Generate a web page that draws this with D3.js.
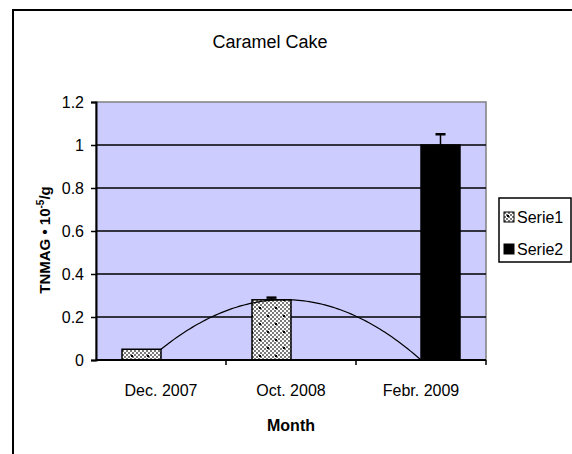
<!DOCTYPE html>
<html>
<head>
<meta charset="utf-8">
<script src="https://cdn.jsdelivr.net/npm/d3@7"></script>
<style>
  body { margin: 0; background: #fff; }
  text { font-family: "Liberation Sans", Arial, sans-serif; fill: #000; }
</style>
</head>
<body>
<script>
// Chart data
const months = ['Dec. 2007', 'Oct. 2008', 'Febr. 2009'];
const seriesNames = ['Serie1', 'Serie2'];
const serie1 = [0.05, 0.28, 0];
const serie2 = [0, 0, 1.0];
const serie1Err = [0, 0.01, 0];
const serie2Err = [0, 0, 0.05];
const yTicks = [0, 0.2, 0.4, 0.6, 0.8, 1, 1.2];

const svg = d3.select('body').append('svg')
    .attr('width', 572)
    .attr('height', 454);

// Patterned fill for Serie1
const defs = svg.append('defs');
const pat = defs.append('pattern')
    .attr('id', 'dots')
    .attr('patternUnits', 'userSpaceOnUse')
    .attr('width', 16).attr('height', 16);
pat.append('rect').attr('width', 16).attr('height', 16).attr('fill', '#fff');
for (let i = 0; i < 8; i++) {
    for (let j = 0; j < 8; j++) {
        if ((i + j) % 2 === 0) {
            pat.append('rect').attr('x', i * 2).attr('y', j * 2)
                .attr('width', 2).attr('height', 2).attr('fill', '#7a7a7a');
        }
    }
}
pat.append('rect').attr('x', 3).attr('y', 3).attr('width', 2).attr('height', 2).attr('fill', '#000');
pat.append('rect').attr('x', 11).attr('y', 11).attr('width', 2).attr('height', 2).attr('fill', '#000');

// Outer chart border
svg.append('rect')
    .attr('x', 13).attr('y', 10)
    .attr('width', 600).attr('height', 500)
    .attr('fill', 'none')
    .attr('stroke', '#000')
    .attr('stroke-width', 2);

// Plot area
const plotL = 96, plotR = 486, plotT = 102, plotB = 360;

const x = d3.scaleBand().domain(months).range([plotL, plotR]);
const xInner = d3.scaleBand().domain(seriesNames)
    .range([0, x.bandwidth()])
    .paddingInner(0)
    .paddingOuter(0.667);
const y = d3.scaleLinear().domain([0, 1.2]).range([plotB, plotT]);

svg.append('rect')
    .attr('x', plotL).attr('y', plotT)
    .attr('width', plotR - plotL).attr('height', plotB - plotT)
    .attr('fill', '#ccccff')
    .attr('stroke', '#808080')
    .attr('stroke-width', 1.5);

// Gridlines
svg.selectAll('.grid')
    .data(yTicks.filter(d => d > 0 && d < 1.2))
    .enter().append('line')
    .attr('x1', plotL).attr('x2', plotR)
    .attr('y1', d => y(d)).attr('y2', d => y(d))
    .attr('stroke', '#000')
    .attr('stroke-width', 1.5);

// Bars
const rows = [];
months.forEach((m, i) => {
    rows.push({ month: m, series: 'Serie1', value: serie1[i], err: serie1Err[i] });
    rows.push({ month: m, series: 'Serie2', value: serie2[i], err: serie2Err[i] });
});

svg.selectAll('.bar')
    .data(rows.filter(d => d.value > 0))
    .enter().append('rect')
    .attr('class', 'bar')
    .attr('x', d => x(d.month) + xInner(d.series))
    .attr('y', d => y(d.value))
    .attr('width', xInner.bandwidth())
    .attr('height', d => y(0) - y(d.value))
    .attr('fill', d => d.series === 'Serie1' ? 'url(#dots)' : '#000')
    .attr('stroke', '#000')
    .attr('stroke-width', 1.5);

// Error bars (plus direction)
const errs = rows.filter(d => d.err > 0);
const cx = d => x(d.month) + xInner(d.series) + xInner.bandwidth() / 2;
svg.selectAll('.err')
    .data(errs)
    .enter().append('line')
    .attr('x1', cx).attr('x2', cx)
    .attr('y1', d => y(d.value))
    .attr('y2', d => y(d.value + d.err))
    .attr('stroke', '#000')
    .attr('stroke-width', 1.5);
svg.selectAll('.cap')
    .data(errs)
    .enter().append('line')
    .attr('x1', d => cx(d) - 5)
    .attr('x2', d => cx(d) + 5)
    .attr('y1', d => y(d.value + d.err))
    .attr('y2', d => y(d.value + d.err))
    .attr('stroke', '#000')
    .attr('stroke-width', 2.5);

// Polynomial (order 2) trendline for Serie1, least squares
function polyFit(xs, ys) {
    const s = k => d3.sum(xs, v => Math.pow(v, k));
    const t = k => d3.sum(xs, (v, i) => Math.pow(v, k) * ys[i]);
    const A = [[s(0), s(1), s(2)], [s(1), s(2), s(3)], [s(2), s(3), s(4)]];
    const B = [t(0), t(1), t(2)];
    const det = m => m[0][0] * (m[1][1] * m[2][2] - m[1][2] * m[2][1])
        - m[0][1] * (m[1][0] * m[2][2] - m[1][2] * m[2][0])
        + m[0][2] * (m[1][0] * m[2][1] - m[1][1] * m[2][0]);
    const D = det(A);
    return [0, 1, 2].map(c => det(A.map((r, i) => r.map((v, j) => j === c ? B[i] : v))) / D);
}
const idx = months.map((m, i) => i + 1);
const coef = polyFit(idx, serie1);
const pos = d3.scaleLinear().domain([1, months.length])
    .range([x(months[0]) + x.bandwidth() / 2, x(months[months.length - 1]) + x.bandwidth() / 2]);
const curve = d3.range(1, months.length + 0.001, 0.02).map(t => [t, coef[0] + coef[1] * t + coef[2] * t * t]);
svg.append('path')
    .datum(curve)
    .attr('d', d3.line().x(d => pos(d[0])).y(d => y(Math.max(0, d[1]))))
    .attr('fill', 'none')
    .attr('stroke', '#000')
    .attr('stroke-width', 1.2);

// Y axis
const yAxis = svg.append('g')
    .attr('transform', `translate(${plotL},0)`)
    .call(d3.axisLeft(y).tickValues(yTicks).tickSize(5).tickPadding(7).tickFormat(d3.format('')));
yAxis.select('.domain').attr('stroke', '#000').attr('stroke-width', 2);
yAxis.selectAll('.tick line').attr('stroke', '#000').attr('stroke-width', 1.5);
yAxis.selectAll('.tick text')
    .style('font-family', '"Liberation Sans", Arial, sans-serif')
    .style('font-size', '16px')
    .attr('fill', '#000');

// X axis
svg.append('line')
    .attr('x1', plotL).attr('x2', plotR)
    .attr('y1', plotB).attr('y2', plotB)
    .attr('stroke', '#000').attr('stroke-width', 2);
svg.selectAll('.xtick')
    .data(months)
    .enter().append('line')
    .attr('x1', d => x(d) + x.bandwidth()).attr('x2', d => x(d) + x.bandwidth())
    .attr('y1', plotB).attr('y2', plotB + 5)
    .attr('stroke', '#000').attr('stroke-width', 1.5);
svg.selectAll('.xlabel')
    .data(months)
    .enter().append('text')
    .attr('x', d => x(d) + x.bandwidth() / 2)
    .attr('y', 396)
    .attr('text-anchor', 'middle')
    .style('font-size', '16px')
    .text(d => d);

// Titles
svg.append('text')
    .attr('x', 270).attr('y', 48)
    .attr('text-anchor', 'middle')
    .style('font-size', '18px')
    .text('Caramel Cake');

svg.append('text')
    .attr('x', 291).attr('y', 431)
    .attr('text-anchor', 'middle')
    .style('font-size', '16px')
    .style('font-weight', 'bold')
    .text('Month');

const yt = svg.append('text')
    .attr('transform', 'translate(50,240) rotate(-90)')
    .attr('text-anchor', 'middle')
    .style('font-size', '15px')
    .style('font-weight', 'bold');
yt.append('tspan').text('TNMAG • 10');
yt.append('tspan').attr('dy', -6).style('font-size', '10px').text('-5');
yt.append('tspan').attr('dy', 6).text('/g');

// Legend
const legend = svg.append('g').attr('transform', 'translate(499,198)');
legend.append('rect')
    .attr('width', 72).attr('height', 64)
    .attr('fill', '#fff')
    .attr('stroke', '#000')
    .attr('stroke-width', 1.5);
const items = legend.selectAll('.item')
    .data(seriesNames)
    .enter().append('g')
    .attr('transform', (d, i) => `translate(5,${14 + i * 32})`);
items.append('rect')
    .attr('width', 10).attr('height', 10)
    .attr('fill', (d, i) => i === 0 ? 'url(#dots)' : '#000')
    .attr('stroke', '#000');
items.append('text')
    .attr('x', 13).attr('y', 11)
    .style('font-size', '16px')
    .text(d => d);
</script>
</body>
</html>
